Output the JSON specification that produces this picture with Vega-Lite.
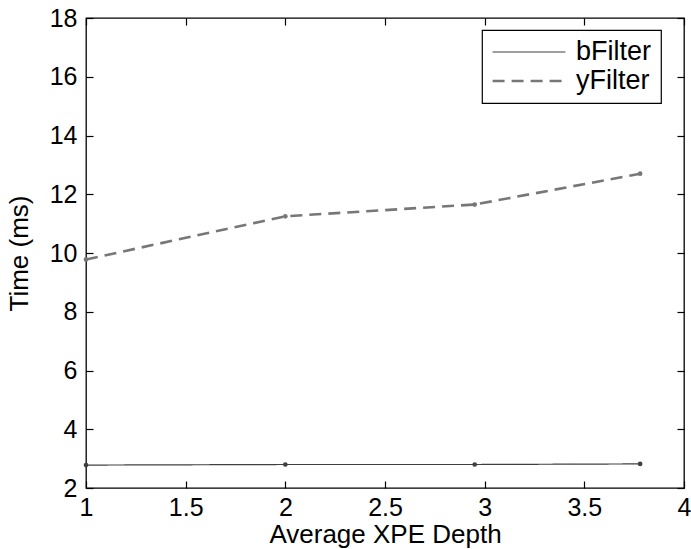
{
  "$schema": "https://vega.github.io/schema/vega-lite/v6.json",
  "width": 598,
  "height": 470,
  "autosize": "none",
  "padding": {"left": 86, "top": 18, "right": 7, "bottom": 61},
  "background": "white",
  "config": {
    "font": "Liberation Sans",
    "view": {"stroke": "black", "strokeWidth": 1.3},
    "legend": {"strokeWidth": 1.2},
    "axis": {
      "domain": false,
      "grid": false,
      "zindex": 1,
      "tickColor": "black",
      "tickSize": -7,
      "tickWidth": 1.2,
      "labelFontSize": 25,
      "labelColor": "black",
      "titleFontSize": 26,
      "titleFontWeight": "normal",
      "titleColor": "black",
      "labelFlush": false,
      "labelOverlap": false,
      "format": "~g"
    }
  },
  "data": {
    "values": [
      {"depth": 1.0, "time": 2.78, "series": "bFilter"},
      {"depth": 2.0, "time": 2.8, "series": "bFilter"},
      {"depth": 2.95, "time": 2.8, "series": "bFilter"},
      {"depth": 3.78, "time": 2.82, "series": "bFilter"},
      {"depth": 1.0, "time": 9.78, "series": "yFilter"},
      {"depth": 2.0, "time": 11.25, "series": "yFilter"},
      {"depth": 2.95, "time": 11.65, "series": "yFilter"},
      {"depth": 3.78, "time": 12.7, "series": "yFilter"}
    ]
  },
  "layer": [
    {
      "mark": {"type": "line", "point": {"filled": true, "size": 22}},
      "encoding": {
        "x": {
          "field": "depth", "type": "quantitative",
          "scale": {"domain": [1, 4], "nice": false, "zero": false},
          "axis": {"orient": "bottom", "values": [1, 1.5, 2, 2.5, 3, 3.5, 4], "title": "Average XPE Depth", "labelPadding": 14, "titlePadding": 1}
        },
        "y": {
          "field": "time", "type": "quantitative",
          "scale": {"domain": [2, 18], "nice": false, "zero": false},
          "axis": {"orient": "left", "values": [2, 4, 6, 8, 10, 12, 14, 16, 18], "title": "Time (ms)", "labelPadding": 16, "titlePadding": 17}
        },
        "color": {
          "field": "series", "type": "nominal",
          "scale": {"domain": ["bFilter", "yFilter"], "range": ["#3f3f3f", "#777777"]},
          "legend": {
            "orient": "none", "legendX": 396, "legendY": 12,
            "title": null,
            "strokeColor": "black", "fillColor": "white",
            "padding": 9, "cornerRadius": 0,
            "labelFontSize": 27, "labelColor": "black",
            "symbolType": "stroke", "symbolSize": 5300,
            "clipHeight": 26, "rowPadding": 2, "labelOffset": 9
          }
        },
        "strokeDash": {
          "field": "series", "type": "nominal",
          "scale": {"domain": ["bFilter", "yFilter"], "range": [[1, 0], [12, 7]]}
        },
        "strokeWidth": {
          "field": "series", "type": "nominal",
          "scale": {"domain": ["bFilter", "yFilter"], "range": [1.2, 2.6]}
        }
      }
    },
    {
      "mark": {"type": "point", "opacity": 0},
      "encoding": {
        "x": {
          "field": "depth", "type": "quantitative",
          "axis": {"orient": "top", "values": [1, 1.5, 2, 2.5, 3, 3.5, 4], "labels": false, "title": null}
        },
        "y": {
          "field": "time", "type": "quantitative",
          "axis": {"orient": "right", "values": [2, 4, 6, 8, 10, 12, 14, 16, 18], "labels": false, "title": null}
        }
      }
    }
  ],
  "resolve": {"axis": {"x": "independent", "y": "independent"}}
}
